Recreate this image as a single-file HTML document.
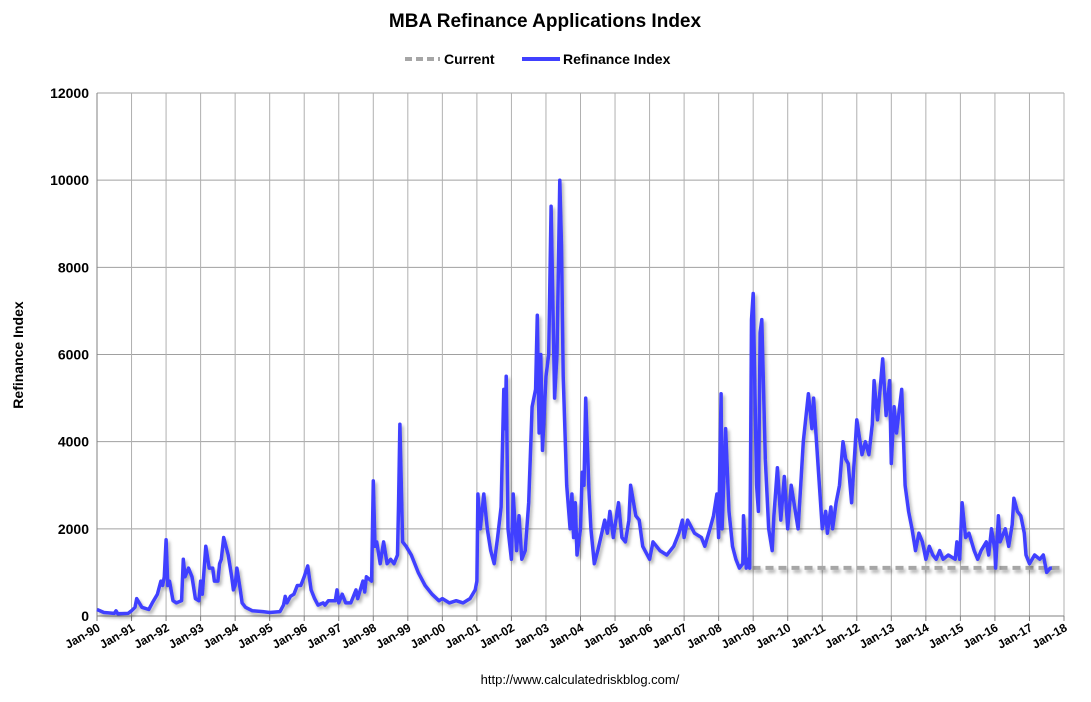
<!DOCTYPE html>
<html><head><meta charset="utf-8"><style>
body{margin:0;background:#fff;}
svg text{font-family:"Liberation Sans",sans-serif;}
</style></head><body>
<svg id="chart" width="1091" height="697" xmlns="http://www.w3.org/2000/svg">
<defs><filter id="sh" filterUnits="userSpaceOnUse" x="0" y="0" width="1091" height="697"><feDropShadow dx="2" dy="3" stdDeviation="1.5" flood-color="#000" flood-opacity="0.3"/></filter></defs>
<text x="545" y="27" text-anchor="middle" font-size="19" font-weight="bold">MBA Refinance Applications Index</text>
<g>
<line x1="405" y1="59" x2="440" y2="59" stroke="#a6a6a6" stroke-width="4" stroke-dasharray="7,4"/>
<text x="444" y="64" font-size="14" font-weight="bold">Current</text>
<line x1="522" y1="59" x2="560" y2="59" stroke="#4040ff" stroke-width="4"/>
<text x="563" y="64" font-size="14" font-weight="bold">Refinance Index</text>
</g>
<text transform="translate(23,355) rotate(-90)" text-anchor="middle" font-size="14" font-weight="bold">Refinance Index</text>
<text x="580" y="684" text-anchor="middle" font-size="13">http://www.calculatedriskblog.com/</text>
<g id="grid"></g><g id="axes"></g><g id="series"></g>
</svg>
<script>
const yTicks=[0,2000,4000,6000,8000,10000,12000];
const xYears=[1990,1991,1992,1993,1994,1995,1996,1997,1998,1999,2000,2001,2002,2003,2004,2005,2006,2007,2008,2009,2010,2011,2012,2013,2014,2015,2016,2017,2018];
const dates=[1990.0,1990.2,1990.5,1990.55,1990.6,1990.9,1991.0,1991.1,1991.15,1991.3,1991.5,1991.6,1991.75,1991.85,1991.9,1991.95,1992.0,1992.05,1992.1,1992.2,1992.3,1992.45,1992.5,1992.55,1992.65,1992.75,1992.85,1992.95,1993.0,1993.05,1993.15,1993.25,1993.35,1993.4,1993.5,1993.55,1993.6,1993.67,1993.8,1993.9,1993.95,1994.0,1994.05,1994.15,1994.2,1994.3,1994.5,1994.8,1995.0,1995.3,1995.4,1995.45,1995.5,1995.6,1995.7,1995.8,1995.9,1996.0,1996.1,1996.2,1996.3,1996.4,1996.55,1996.6,1996.7,1996.9,1996.95,1997.0,1997.1,1997.2,1997.35,1997.5,1997.55,1997.7,1997.75,1997.8,1997.95,1998.0,1998.05,1998.1,1998.2,1998.3,1998.4,1998.5,1998.6,1998.7,1998.73,1998.77,1998.85,1998.95,1999.1,1999.3,1999.5,1999.7,1999.9,2000.0,2000.2,2000.4,2000.6,2000.8,2000.95,2001.0,2001.03,2001.1,2001.2,2001.3,2001.4,2001.5,2001.6,2001.7,2001.78,2001.82,2001.85,2001.9,2002.0,2002.05,2002.15,2002.22,2002.3,2002.4,2002.5,2002.6,2002.7,2002.75,2002.8,2002.85,2002.9,2003.0,2003.08,2003.15,2003.25,2003.32,2003.4,2003.45,2003.5,2003.6,2003.7,2003.75,2003.8,2003.85,2003.9,2004.0,2004.05,2004.1,2004.15,2004.25,2004.3,2004.4,2004.5,2004.7,2004.78,2004.85,2004.95,2005.1,2005.2,2005.3,2005.4,2005.45,2005.6,2005.7,2005.8,2006.0,2006.1,2006.3,2006.5,2006.7,2006.85,2006.95,2007.0,2007.1,2007.3,2007.5,2007.6,2007.75,2007.85,2007.95,2008.0,2008.07,2008.1,2008.2,2008.3,2008.4,2008.5,2008.6,2008.7,2008.72,2008.8,2008.85,2008.9,2008.92,2008.95,2009.0,2009.1,2009.15,2009.2,2009.25,2009.35,2009.45,2009.55,2009.6,2009.7,2009.8,2009.9,2010.0,2010.1,2010.3,2010.4,2010.45,2010.6,2010.7,2010.75,2010.9,2011.0,2011.1,2011.15,2011.25,2011.3,2011.4,2011.5,2011.6,2011.68,2011.75,2011.85,2012.0,2012.15,2012.25,2012.35,2012.45,2012.5,2012.6,2012.75,2012.85,2012.95,2013.0,2013.08,2013.15,2013.3,2013.4,2013.5,2013.6,2013.7,2013.8,2013.9,2014.0,2014.1,2014.2,2014.3,2014.4,2014.5,2014.65,2014.85,2014.9,2014.98,2015.05,2015.15,2015.25,2015.4,2015.5,2015.6,2015.75,2015.82,2015.9,2016.0,2016.02,2016.1,2016.15,2016.3,2016.4,2016.5,2016.55,2016.65,2016.75,2016.85,2016.9,2017.0,2017.15,2017.3,2017.4,2017.5,2017.6,2017.65];
const refi=[150,80,60,120,50,60,120,200,400,200,150,300,500,800,700,900,1750,700,800,350,300,350,1300,900,1100,900,400,350,800,500,1600,1100,1100,800,800,1200,1300,1800,1400,900,600,700,1100,600,300,200,120,100,80,100,250,450,300,450,500,700,700,900,1150,600,400,250,300,250,350,350,600,300,500,300,300,600,400,800,550,900,800,3100,1600,1700,1200,1700,1200,1300,1200,1400,2500,4400,1700,1600,1400,1000,700,500,350,400,300,350,300,400,600,800,2800,2000,2800,2000,1500,1200,1800,2500,5200,4300,5500,2000,1300,2800,1500,2300,1300,1500,2600,4800,5200,6900,4200,6000,3800,5500,6000,9400,5000,6000,10000,8500,5500,3000,2000,2800,1800,2600,1400,2000,3300,3000,5000,2800,2000,1200,1500,2200,1900,2400,1800,2600,1800,1700,2200,3000,2300,2200,1600,1300,1700,1500,1400,1600,1900,2200,1800,2200,1900,1800,1600,2000,2300,2800,1800,5100,2000,4300,2400,1600,1300,1100,1200,2300,1100,1300,1100,3000,6800,7400,3000,2400,6500,6800,3600,2000,1500,2300,3400,2200,3200,2000,3000,2000,3300,4000,5100,4300,5000,3200,2000,2400,1900,2500,2000,2600,3000,4000,3600,3500,2600,4500,3700,4000,3700,4400,5400,4500,5900,4600,5400,3500,4800,4200,5200,3000,2400,2000,1500,1900,1700,1300,1600,1400,1300,1500,1300,1400,1300,1700,1300,2600,1800,1900,1500,1300,1500,1700,1400,2000,1500,1100,2300,1700,2000,1600,2100,2700,2400,2300,1900,1400,1200,1400,1300,1400,1000,1100,1100];
const currentStart=[2008.98];
const currentEnd=[2018];
const currentValue=[1105];

const NS="http://www.w3.org/2000/svg";
const X0=97,X1=1064,Y0=616,Y1=93;
function xs(t){return X0+(t-1990)/28*(X1-X0);}
function ys(v){return Y0-v/12000*(Y0-Y1);}
function mk(tag,attrs,parent){const e=document.createElementNS(NS,tag);for(const k in attrs)e.setAttribute(k,attrs[k]);document.getElementById(parent).appendChild(e);return e;}
yTicks.forEach(v=>{
 const l=mk('line',{x1:X0,x2:X1,y1:ys(v),y2:ys(v),stroke:'#a0a0a0','stroke-width':1},'grid');
 
 
 const t=mk('text',{x:X0-8,y:ys(v)+5,'text-anchor':'end','font-size':14,'font-weight':'bold'},'axes');
 t.textContent=v;
 
 
});
xYears.forEach(yr=>{
 const x=xs(yr);
 const l=mk('line',{x1:x,x2:x,y1:Y1,y2:Y0,stroke:'#b0b0b0','stroke-width':1},'grid');
 
 
 const tk=mk('line',{x1:x,x2:x,y1:Y0,y2:Y0+5,stroke:'#808080'},'axes');
 
 
 const t=mk('text',{x:x+4,y:Y0+14,'text-anchor':'end','font-size':12,'font-weight':'bold',transform:`rotate(-30 ${x+4} ${Y0+14})`},'axes');
 t.textContent='Jan-'+String(yr%100).padStart(2,'0');
 
 
});
const ax=mk('line',{x1:X0,x2:X1,y1:Y0,y2:Y0,stroke:'#808080','stroke-width':1},'axes');


const ay=mk('line',{x1:X0,x2:X0,y1:Y1,y2:Y0,stroke:'#808080','stroke-width':1},'axes');


const cur=mk('line',{x1:xs(currentStart[0]),x2:xs(currentEnd[0]),y1:ys(currentValue[0]),y2:ys(currentValue[0]),stroke:'#a6a6a6','stroke-width':4,'stroke-dasharray':'8,5',filter:'url(#sh)'},'series');


const pts=dates.map((d,i)=>xs(d).toFixed(1)+','+ys(refi[i]).toFixed(1)).join(' ');
const pl=mk('polyline',{points:pts,fill:'none',stroke:'#4040ff','stroke-width':3.5,'stroke-linejoin':'round',filter:'url(#sh)'},'series');


</script>
</body></html>
